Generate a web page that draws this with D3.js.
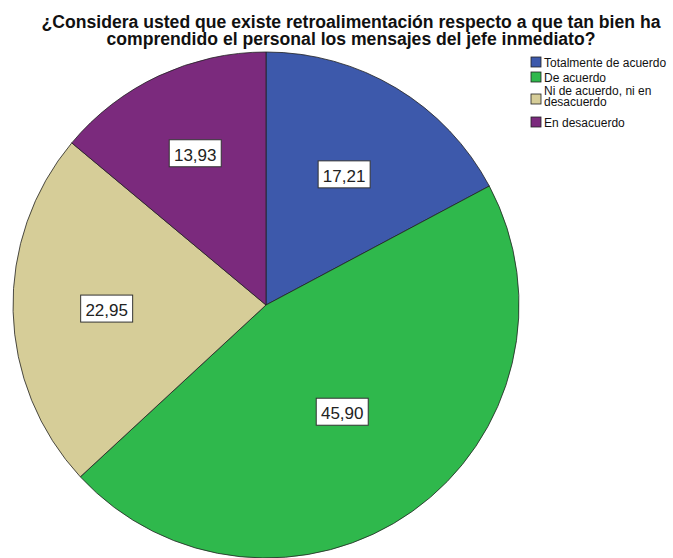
<!DOCTYPE html>
<html><head><meta charset="utf-8">
<script src="https://cdn.jsdelivr.net/npm/d3@7"></script>
<style>body{margin:0;background:#fff}svg{display:block}</style>
</head><body>
<svg id="c" width="673" height="558"></svg>
<script>
const categories = ["Totalmente de acuerdo", "De acuerdo", "Ni de acuerdo, ni en desacuerdo", "En desacuerdo"];
const values = [17.21, 45.90, 22.95, 13.93];
const labels = ["17,21", "45,90", "22,95", "13,93"];
const colors = ["#3d59ab", "#2fb84c", "#d6cd98", "#7b2a7d"];
const legendLines = [["Totalmente de acuerdo"], ["De acuerdo"], ["Ni de acuerdo, ni en", "desacuerdo"], ["En desacuerdo"]];
const titleLines = ["¿Considera usted que existe retroalimentación respecto a que tan bien ha", "comprendido el personal los mensajes del jefe inmediato?"];

// layout settings (not data)
const labelRadiusFrac = [0.6, 0.52, 0.63, 0.66];

const svg = d3.select("#c");
const cx = 266, cy = 305, r = 253;

const pie = d3.pie().sort(null).value(d => d)(values);
const arc = d3.arc().innerRadius(0).outerRadius(r);

const g = svg.append("g").attr("transform", `translate(${cx},${cy})`);
g.selectAll("path").data(pie).join("path")
  .attr("d", arc).attr("fill", (d, i) => colors[i])
  .attr("stroke", "#222").attr("stroke-width", 0.8);

const lg = g.selectAll("g.lab").data(pie).join("g").attr("class", "lab")
  .attr("transform", (d, i) => {
    const rr = r * labelRadiusFrac[i];
    return `translate(${d3.arc().innerRadius(rr).outerRadius(rr).centroid(d)})`;
  });
lg.append("rect").attr("x", -26).attr("y", -14).attr("width", 52).attr("height", 27)
  .attr("fill", "#fff").attr("stroke", "#333").attr("stroke-width", 1);
lg.append("text").attr("text-anchor", "middle").attr("y", 7)
  .attr("font-family", "Liberation Sans, Arial, sans-serif").attr("font-size", 17)
  .attr("fill", "#222").text((d, i) => labels[i]);

svg.append("g").selectAll("text").data(titleLines).join("text")
  .attr("x", 351).attr("y", (d, i) => 28 + i * 17)
  .attr("text-anchor", "middle").attr("font-family", "Liberation Sans, Arial, sans-serif")
  .attr("font-weight", "bold").attr("font-size", 17.6).attr("fill", "#111").text(d => d);

const legY = [57, 72, 94, 117];
const leg = svg.append("g");
categories.forEach((c, i) => {
  leg.append("rect").attr("x", 531).attr("y", legY[i]).attr("width", 10).attr("height", 10)
    .attr("fill", colors[i]).attr("stroke", "#222").attr("stroke-width", 0.8);
  const lines = legendLines[i];
  lines.forEach((t, j) => {
    const base = lines.length > 1 ? legY[i] + 1 + j * 11 : legY[i] + 10;
    leg.append("text").attr("x", 544).attr("y", base)
      .attr("font-family", "Liberation Sans, Arial, sans-serif").attr("font-size", 12)
      .attr("fill", "#111").text(t);
  });
});
</script>
</body></html>
